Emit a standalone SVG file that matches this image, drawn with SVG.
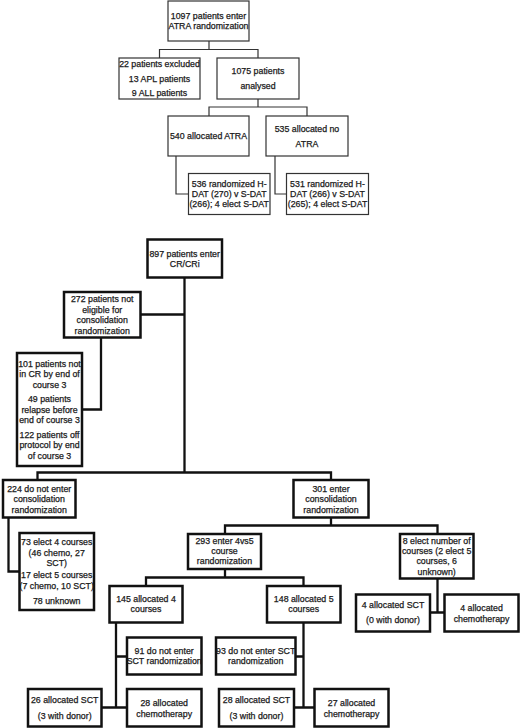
<svg xmlns="http://www.w3.org/2000/svg" width="520" height="728" viewBox="0 0 520 728">
<style>
text{font-family:"Liberation Sans",Arial,sans-serif;font-size:8.8px;fill:#1a1a1a;stroke:#1a1a1a;stroke-width:0.25;text-anchor:middle}
.t rect{fill:#fff;stroke:#333;stroke-width:1.2}
.b rect{fill:#fff;stroke:#111;stroke-width:2.5}
.ct{fill:none;stroke:#333;stroke-width:1.2}
.cb{fill:none;stroke:#111;stroke-width:2.3}
</style>
<rect width="520" height="728" fill="#fff"/>
<g id="connectors">
<path class="ct" d="M209,41V49.5M159.5,58V49.5H258V58M258,99V107M209,116V107H307V116M176,156V194H188.5M275,156V194H286.5"/>
<path class="cb" d="M184.5,277.5V472.5M140.5,314.5H184.5M101,337.5V409.5H82M37.5,480V472.5H331V480M8.5,517.5V571.5H19.5M331,517.5V525.5M225,534V525.5H437.5V534M225,569V577.5M146,586V577.5H303.5V586M437.5,578.5V612.5M430,612.5H444.5M116,622.5V707.5M116,656.5H127M101.5,707.5H127M303.5,622.5V707.5M295.5,656.5H303.5M294,707.5H314.5"/>
</g>
<g class="t">
<g id="n1097"><rect x="168" y="1" width="81" height="40"/><text x="208.5" y="19">1097 patients enter</text><text x="208.5" y="29">ATRA randomization</text></g>
<g id="n22"><rect x="119" y="58" width="81" height="41"/><text x="159.5" y="66.5">22 patients excluded</text><text x="159.5" y="81.5">13 APL patients</text><text x="159.5" y="95.8">9 ALL patients</text></g>
<g id="n1075"><rect x="217" y="58" width="82" height="41"/><text x="258" y="74">1075 patients</text><text x="258" y="88.5">analysed</text></g>
<g id="n540"><rect x="168" y="116" width="81" height="40"/><text x="208.5" y="139">540 allocated ATRA</text></g>
<g id="n535"><rect x="266" y="116" width="82" height="40"/><text x="307" y="132">535 allocated no</text><text x="307" y="147">ATRA</text></g>
<g id="n536"><rect x="188.5" y="173.5" width="81.5" height="41"/><text x="229.2" y="186.5">536 randomized H-</text><text x="229.2" y="196.5">DAT (270) v S-DAT</text><text x="229.2" y="207">(266); 4 elect S-DAT</text></g>
<g id="n531"><rect x="286.5" y="173.5" width="82" height="41"/><text x="327.5" y="186.5">531 randomized H-</text><text x="327.5" y="196.5">DAT (266) v S-DAT</text><text x="327.5" y="207">(265); 4 elect S-DAT</text></g>
</g>
<g class="b">
<g id="n897"><rect x="147.5" y="239.5" width="74.5" height="38"/><text x="184.7" y="256.5">897 patients enter</text><text x="184.7" y="267">CR/CRi</text></g>
<g id="n272"><rect x="64" y="292" width="76.5" height="45.5"/><text x="102.2" y="302">272 patients not</text><text x="102.2" y="312.7">eligible for</text><text x="102.2" y="323">consolidation</text><text x="102.2" y="333.5">randomization</text></g>
<g id="n101"><rect x="17" y="353" width="65" height="113"/><text x="49.5" y="366.5">101 patients not</text><text x="49.5" y="377.2">in CR by end of</text><text x="49.5" y="387.9">course 3</text><text x="49.5" y="402.2">49 patients</text><text x="49.5" y="412.5">relapse before</text><text x="49.5" y="423.2">end of course 3</text><text x="49.5" y="438.2">122 patients off</text><text x="49.5" y="448.2">protocol by end</text><text x="49.5" y="458.5">of course 3</text></g>
<g id="n224"><rect x="3" y="480" width="72.5" height="37.5"/><text x="39.2" y="491.5">224 do not enter</text><text x="39.2" y="502.2">consolidation</text><text x="39.2" y="512.9">randomization</text></g>
<g id="n301"><rect x="293.5" y="480" width="75" height="37.5"/><text x="331" y="491.5">301 enter</text><text x="331" y="502.2">consolidation</text><text x="331" y="512.9">randomization</text></g>
<g id="n73"><rect x="19.5" y="533" width="74.5" height="77"/><text x="56.7" y="544.9">73 elect 4 courses</text><text x="56.7" y="555.5">(46 chemo, 27</text><text x="56.7" y="565.5">SCT)</text><text x="56.7" y="578.2">17 elect 5 courses</text><text x="56.7" y="588.9">(7 chemo, 10 SCT)</text><text x="56.7" y="603.9">78 unknown</text></g>
<g id="n293"><rect x="188" y="534" width="73" height="35"/><text x="224.5" y="543.9">293 enter 4vs5</text><text x="224.5" y="554.2">course</text><text x="224.5" y="564.2">randomization</text></g>
<g id="n8"><rect x="400" y="534" width="73.5" height="44.5"/><text x="436.7" y="543.5">8 elect number of</text><text x="436.7" y="553.9">courses (2 elect 5</text><text x="436.7" y="564.2">courses, 6</text><text x="436.7" y="574.5">unknown)</text></g>
<g id="n145"><rect x="109.5" y="586" width="73" height="36.5"/><text x="146" y="601.5">145 allocated 4</text><text x="146" y="612.2">courses</text></g>
<g id="n148"><rect x="267" y="586" width="73.5" height="36.5"/><text x="303.7" y="601.5">148 allocated 5</text><text x="303.7" y="612.2">courses</text></g>
<g id="n4sct"><rect x="356" y="594.5" width="74" height="37"/><text x="393" y="608.2">4 allocated SCT</text><text x="393" y="623.2">(0 with donor)</text></g>
<g id="n4chemo"><rect x="444.5" y="594.5" width="74" height="37"/><text x="481.5" y="610.5">4 allocated</text><text x="481.5" y="621.5">chemotherapy</text></g>
<g id="n91"><rect x="127" y="637.5" width="74.5" height="37"/><text x="164.2" y="654.2">91 do not enter</text><text x="164.2" y="664.2">SCT randomization</text></g>
<g id="n93"><rect x="216" y="637.5" width="79.5" height="37"/><text x="255.7" y="654.2">93 do not enter SCT</text><text x="255.7" y="664.2">randomization</text></g>
<g id="n26"><rect x="28" y="689" width="73.5" height="37.5"/><text x="64.7" y="703.2">26 allocated SCT</text><text x="64.7" y="718.9">(3 with donor)</text></g>
<g id="n28c"><rect x="127" y="689" width="74.5" height="37.5"/><text x="164.2" y="705.9">28 allocated</text><text x="164.2" y="716.5">chemotherapy</text></g>
<g id="n28s"><rect x="219" y="689" width="75" height="37.5"/><text x="256.5" y="703.2">28 allocated SCT</text><text x="256.5" y="718.9">(3 with donor)</text></g>
<g id="n27"><rect x="314.5" y="689" width="74" height="37.5"/><text x="351.5" y="705.9">27 allocated</text><text x="351.5" y="716.5">chemotherapy</text></g>
</g>
</svg>
